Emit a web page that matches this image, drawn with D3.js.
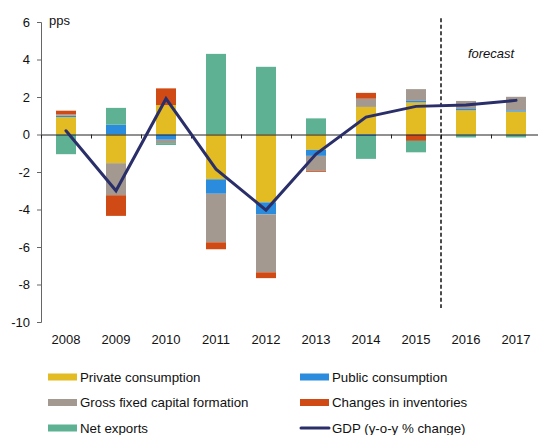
<!DOCTYPE html>
<html>
<head>
<meta charset="utf-8">
<script src="https://cdn.jsdelivr.net/npm/d3@7"></script>
<style>
  html, body { margin: 0; padding: 0; background: #fff; }
  svg { display: block; font-family: "Liberation Sans", Arial, sans-serif; }
</style>
</head>
<body>
<svg id="chart" width="538" height="435"></svg>
<script>
const years = ["2008","2009","2010","2011","2012","2013","2014","2015","2016","2017"];
const privateConsumption = [0.93, -1.53, 1.57, -2.39, -3.62, -0.82, 1.47, 1.71, 1.29, 1.22];
const publicConsumption  = [0.08, 0.52, -0.28, -0.77, -0.64, -0.32, -0.08, 0.08, 0.07, 0.07];
const grossFixedCapital  = [0.06, -1.71, -0.18, -2.59, -3.09, -0.80, 0.44, 0.63, 0.43, 0.72];
const inventories        = [0.20, -1.10, 0.89, -0.37, -0.31, -0.05, 0.31, -0.34, 0.00, 0.00];
const netExports         = [-1.05, 0.90, -0.10, 4.30, 3.61, 0.86, -1.22, -0.61, -0.16, -0.16];
const gdp                = [0.20, -3.00, 1.91, -1.85, -4.03, -1.04, 0.93, 1.50, 1.57, 1.82];
const yTicks = [-10, -8, -6, -4, -2, 0, 2, 4, 6];
const seriesNames = ["Private consumption", "Public consumption", "Gross fixed capital formation", "Changes in inventories", "Net exports"];
const seriesColors = ["#E2BC22", "#2B8BDC", "#A39990", "#CF4A15", "#5FB194"];
const gdpName = "GDP (y-o-y % change)";
const gdpColor = "#2A2F6A";

const seriesValues = [privateConsumption, publicConsumption, grossFixedCapital, inventories, netExports];
const table = years.map((yr, i) => {
  const row = { year: yr };
  seriesNames.forEach((n, k) => row[n] = seriesValues[k][i]);
  return row;
});

const svg = d3.select("#chart");
const x = d3.scaleBand().domain(years).range([41, 541]).paddingInner(0.6).paddingOuter(0.3);
const y = d3.scaleLinear().domain([-10, 6]).range([322, 22]);
const xIdx = d3.scaleLinear().domain([0, years.length]).range([41, 541]);

// Y axis
const yAxis = svg.append("g").attr("transform", "translate(41,0)")
  .call(d3.axisLeft(y).tickValues(yTicks).tickSize(4).tickPadding(7).tickFormat(d => String(d)));
yAxis.selectAll("path, line").attr("stroke", "#666");
yAxis.selectAll("text").attr("font-size", 13).attr("fill", "#111").attr("font-family", "Liberation Sans, Arial, sans-serif");

// stacked bars
const stack = d3.stack().keys(seriesNames).offset(d3.stackOffsetDiverging);
const stacked = stack(table);
svg.append("g").selectAll("g").data(stacked).join("g")
  .attr("fill", (d, i) => seriesColors[i])
  .selectAll("rect").data(d => d).join("rect")
  .attr("x", d => x(d.data.year))
  .attr("width", x.bandwidth())
  .attr("y", d => y(Math.max(d[0], d[1])))
  .attr("height", d => Math.abs(y(d[0]) - y(d[1])));

// zero axis with ticks at category boundaries
const xAxis = svg.append("g").attr("transform", `translate(0,${y(0)})`)
  .call(d3.axisBottom(xIdx).tickValues(d3.range(1, years.length)).tickSize(4).tickFormat(""));
xAxis.select(".domain").attr("stroke", "#222");
xAxis.selectAll("line").attr("stroke", "#222");

// year labels
const yearAxis = svg.append("g").attr("transform", `translate(0,${y(-10)})`)
  .call(d3.axisBottom(x).tickSize(0).tickPadding(13));
yearAxis.select(".domain").remove();
yearAxis.selectAll("text").attr("font-size", 13).attr("fill", "#111").attr("font-family", "Liberation Sans, Arial, sans-serif");

// forecast divider
const xDiv = x("2016") - x.step() * x.paddingOuter();
svg.append("line")
  .attr("x1", xDiv).attr("x2", xDiv)
  .attr("y1", y(6.2)).attr("y2", y(-9.25))
  .attr("stroke", "#111").attr("stroke-width", 1.5).attr("stroke-dasharray", "4,2.5");

svg.append("text").attr("x", x("2016") + x.bandwidth() * 1.75).attr("y", 58)
  .attr("text-anchor", "middle").attr("font-size", 13).attr("font-style", "italic").attr("fill", "#111")
  .text("forecast");

svg.append("text").attr("x", 49).attr("y", 25).attr("font-size", 13).attr("fill", "#111").text("pps");

// GDP line
const line = d3.line().x((d, i) => x(years[i]) + x.bandwidth() / 2).y(d => y(d));
svg.append("path").datum(gdp).attr("d", line)
  .attr("fill", "none").attr("stroke", gdpColor).attr("stroke-width", 3)
  .attr("stroke-linejoin", "miter").attr("stroke-linecap", "round");

// legend
const legendItems = [
  { name: seriesNames[0], color: seriesColors[0], col: 0, row: 0 },
  { name: seriesNames[1], color: seriesColors[1], col: 1, row: 0 },
  { name: seriesNames[2], color: seriesColors[2], col: 0, row: 1 },
  { name: seriesNames[3], color: seriesColors[3], col: 1, row: 1 },
  { name: seriesNames[4], color: seriesColors[4], col: 0, row: 2 },
  { name: gdpName, color: gdpColor, col: 1, row: 2, line: true }
];
const colX = [48, 300];
const rowY = [377, 402.5, 428];
const lg = svg.append("g").selectAll("g").data(legendItems).join("g")
  .attr("transform", d => `translate(${colX[d.col]},${rowY[d.row]})`);
lg.filter(d => !d.line).append("rect")
  .attr("x", 0).attr("y", -3.5).attr("width", 29).attr("height", 7).attr("fill", d => d.color);
lg.filter(d => d.line).append("line")
  .attr("x1", 1).attr("x2", 29).attr("y1", 0).attr("y2", 0)
  .attr("stroke", d => d.color).attr("stroke-width", 3).attr("stroke-linecap", "round");
lg.append("text").attr("x", 32).attr("y", 0).attr("dy", "0.35em")
  .attr("font-size", 13.3).attr("fill", "#111").text(d => d.name);
</script>
</body>
</html>
